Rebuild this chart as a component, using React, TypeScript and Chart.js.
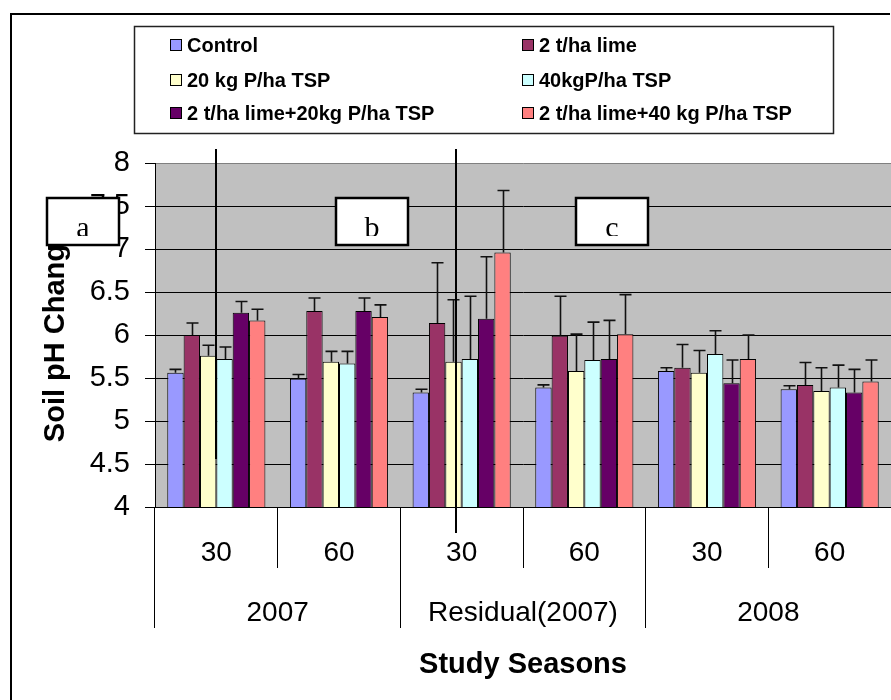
import React, { useEffect, useRef } from "react";
import { Chart, registerables } from "chart.js";

Chart.register(...registerables);

// ---------- data ----------
const seasons = ["30", "60", "30", "60", "30", "60"];
const years = ["2007", "Residual(2007)", "2008"];
const seriesNames = [
  "Control",
  "2 t/ha lime",
  "20 kg P/ha TSP",
  "40kgP/ha TSP",
  "2 t/ha lime+20kg P/ha TSP",
  "2 t/ha lime+40 kg P/ha TSP",
];
const seriesColors = ["#9999FF", "#993366", "#FFFFCC", "#CCFFFF", "#660066", "#FF8080"];

const control = [5.56, 5.49, 5.33, 5.39, 5.58, 5.37];
const lime = [6.0, 6.28, 6.14, 5.99, 5.62, 5.42];
const tsp20 = [5.76, 5.69, 5.69, 5.58, 5.56, 5.35];
const tsp40 = [5.72, 5.67, 5.72, 5.71, 5.78, 5.39];
const lime20 = [6.26, 6.28, 6.19, 5.72, 5.44, 5.33];
const lime40 = [6.17, 6.21, 6.96, 6.01, 5.72, 5.46];

const controlErr = [0.04, 0.05, 0.04, 0.03, 0.04, 0.04];
const limeErr = [0.14, 0.15, 0.7, 0.46, 0.27, 0.26];
const tsp20Err = [0.12, 0.12, 0.72, 0.43, 0.26, 0.27];
const tsp40Err = [0.14, 0.14, 0.73, 0.44, 0.27, 0.26];
const lime20Err = [0.13, 0.15, 0.72, 0.45, 0.27, 0.27];
const lime40Err = [0.13, 0.14, 0.72, 0.46, 0.28, 0.25];

const seriesValues = [control, lime, tsp20, tsp40, lime20, lime40];
const seriesErrors = [controlErr, limeErr, tsp20Err, tsp40Err, lime20Err, lime40Err];

const yMin = 4;
const yMax = 8;
const yStep = 0.5;

const yTitle = "Soil pH Change";
const xTitle = "Study Seasons";
const boxLabels = ["a", "b", "c"];

const SANS = '"Liberation Sans", Arial, sans-serif';
const SERIF = '"Liberation Serif", "Times New Roman", serif';

// ---------- plugins ----------
const backgroundPlugin = {
  id: "bg",
  beforeDraw(chart: any) {
    const { ctx, chartArea } = chart;
    ctx.save();
    ctx.fillStyle = "#ffffff";
    ctx.fillRect(0, 0, chart.width, chart.height);
    ctx.fillStyle = "#C0C0C0";
    ctx.fillRect(chartArea.left, chartArea.top, chartArea.right - chartArea.left, chartArea.bottom - chartArea.top);
    ctx.restore();
  },
};

const errorBarPlugin = {
  id: "errbars",
  afterDatasetsDraw(chart: any) {
    const { ctx } = chart;
    const yScale = chart.scales.y;
    ctx.save();
    ctx.strokeStyle = "#111111";
    ctx.lineWidth = 1.6;
    chart.data.datasets.forEach((ds: any, i: number) => {
      const meta = chart.getDatasetMeta(i);
      meta.data.forEach((bar: any, j: number) => {
        const v = ds.data[j];
        const e = seriesErrors[i][j];
        const yTop = yScale.getPixelForValue(v + e);
        const x = Math.round(bar.x) + 0.5;
        ctx.beginPath();
        ctx.moveTo(x, bar.y);
        ctx.lineTo(x, yTop);
        ctx.moveTo(x - 6, yTop);
        ctx.lineTo(x + 6, yTop);
        ctx.stroke();
      });
    });
    ctx.restore();
  },
};

const overlayPlugin = {
  id: "overlay",
  afterDraw(chart: any) {
    const { ctx, chartArea } = chart;
    const L = chartArea.left;
    const T = chartArea.top;
    ctx.save();

    // legend
    const lb = { x: 134.5, y: 26.5, w: 699, h: 107 };
    ctx.fillStyle = "#ffffff";
    ctx.fillRect(lb.x, lb.y, lb.w, lb.h);
    ctx.strokeStyle = "#222222";
    ctx.lineWidth = 1.5;
    ctx.strokeRect(lb.x, lb.y, lb.w, lb.h);
    const colX = [170, 522];
    const rowY = [45, 80, 113];
    ctx.font = `bold 20px ${SANS}`;
    ctx.textBaseline = "middle";
    ctx.textAlign = "left";
    chart.data.datasets.forEach((ds: any, i: number) => {
      const cx = colX[i % 2];
      const cy = rowY[Math.floor(i / 2)];
      ctx.fillStyle = ds.backgroundColor;
      ctx.fillRect(cx + 0.5, cy - 5.5, 11, 11);
      ctx.strokeStyle = "#000";
      ctx.lineWidth = 1;
      ctx.strokeRect(cx + 0.5, cy - 5.5, 11, 11);
      ctx.fillStyle = "#000";
      ctx.fillText(ds.label, cx + 17, cy + 1);
    });

    // vertical annotation lines
    ctx.strokeStyle = "#000";
    ctx.lineWidth = 2;
    ctx.beginPath();
    ctx.moveTo(L + 61, T - 14);
    ctx.lineTo(L + 61, T + 296);
    ctx.moveTo(L + 301, T - 14);
    ctx.lineTo(L + 301, T + 370);
    ctx.stroke();

    // label boxes
    const boxes = [L - 108, L + 181, L + 421];
    boxes.forEach((bx, i) => {
      const by = T + 35;
      const bw = 72;
      const bh = 47;
      ctx.fillStyle = "#fff";
      ctx.fillRect(bx, by, bw, bh);
      ctx.save();
      ctx.beginPath();
      ctx.rect(bx, by, bw, bh - 9);
      ctx.clip();
      ctx.fillStyle = "#000";
      ctx.font = `30px ${SERIF}`;
      ctx.textAlign = "center";
      ctx.textBaseline = "alphabetic";
      ctx.fillText(boxLabels[i], bx + bw / 2, by + bh - 8);
      ctx.restore();
      ctx.strokeStyle = "#000";
      ctx.lineWidth = 2.5;
      ctx.strokeRect(bx, by, bw, bh);
    });

    // outer frame
    ctx.strokeStyle = "#000";
    ctx.lineWidth = 2;
    ctx.beginPath();
    ctx.moveTo(11, chart.height);
    ctx.lineTo(11, 14);
    ctx.lineTo(890, 14);
    ctx.stroke();

    ctx.restore();
  },
};

export default function App() {
  const canvasRef = useRef<HTMLCanvasElement | null>(null);

  useEffect(() => {
    const canvas = canvasRef.current;
    if (!canvas) return;
    const chart = new Chart(canvas, {
      type: "bar",
      data: {
        labels: seasons,
        datasets: seriesNames.map((name, i) => ({
          label: name,
          data: seriesValues[i],
          backgroundColor: seriesColors[i],
          borderColor: "#000000",
          borderWidth: 1,
          barPercentage: 1,
          categoryPercentage: 0.8,
        })),
      },
      options: {
        responsive: false,
        animation: false,
        layout: { padding: { top: 163, left: 0, right: 0, bottom: 12 } },
        plugins: {
          legend: { display: false },
          tooltip: { enabled: false },
        },
        scales: {
          y: {
            min: yMin,
            max: yMax,
            afterFit(scale: any) {
              scale.width = 155;
            },
            ticks: {
              stepSize: yStep,
              color: "#000",
              padding: 15,
              font: { family: SANS, size: 29 },
              callback: (v: any) => String(Number(v)),
            },
            grid: {
              color: (c: any) => (c.tick && c.tick.value === yMax ? "#808080" : "#000000"),
              lineWidth: 1,
              tickLength: 10,
              tickColor: "#000",
            },
            border: { display: true, color: "#000", width: 1 },
            title: {
              display: true,
              text: yTitle,
              color: "#000",
              font: { family: SANS, size: 29, weight: "bold" },
              padding: { top: 39, bottom: 0 },
            },
          },
          x: {
            type: "category",
            position: "bottom",
            afterFit(scale: any) {
              scale.height = 61;
            },
            grid: {
              offset: true,
              drawOnChartArea: false,
              drawTicks: true,
              tickLength: 61,
              color: "#000",
              tickColor: "#000",
              lineWidth: 1,
            },
            border: { display: true, color: "#000", width: 1 },
            ticks: {
              color: "#000",
              padding: -32,
              maxRotation: 0,
              autoSkip: false,
              font: { family: SANS, size: 28 },
            },
          },
          x2: {
            type: "category",
            position: "bottom",
            labels: years,
            offset: true,
            afterFit(scale: any) {
              scale.height = 120;
            },
            grid: {
              offset: true,
              drawOnChartArea: false,
              drawTicks: true,
              tickLength: 60,
              color: "#000",
              tickColor: "#000",
              lineWidth: 1,
            },
            border: { display: false },
            ticks: {
              color: "#000",
              padding: -32,
              maxRotation: 0,
              autoSkip: false,
              font: { family: SANS, size: 28 },
            },
            title: {
              display: true,
              text: xTitle,
              color: "#000",
              font: { family: SANS, size: 29, weight: "bold" },
              padding: { top: 0, bottom: 6 },
            },
          },
        },
      },
      plugins: [backgroundPlugin, errorBarPlugin, overlayPlugin],
    });
    return () => chart.destroy();
  }, []);

  return (
    <div style={{ position: "fixed", left: 0, top: 0, width: 891, height: 700, background: "#fff", overflow: "hidden" }}>
      <canvas ref={canvasRef} width={891} height={700} style={{ display: "block", width: 891, height: 700 }} />
    </div>
  );
}
